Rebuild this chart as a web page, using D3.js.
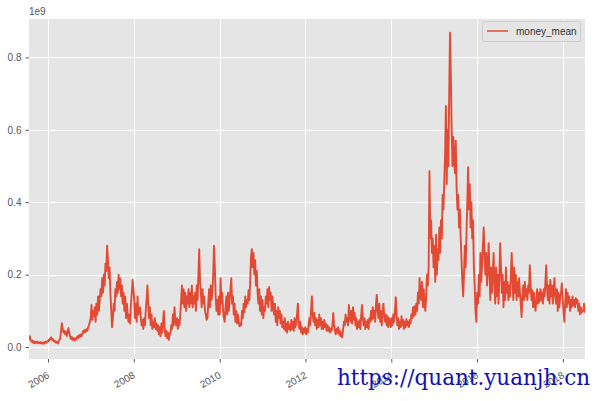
<!DOCTYPE html>
<html>
<head>
<meta charset="utf-8">
<script src="https://cdn.jsdelivr.net/npm/d3@7"></script>
<style>
  html, body { margin: 0; padding: 0; background: #ffffff; }
  svg { display: block; }
</style>
</head>
<body>
<div id="chart"></div>
<script>
// ---- data (values in units of 1e9), weekly samples starting 2005-07-23 ----
const seriesName = "money_mean";
const startDate = new Date(2005, 6, 23);
const stepDays = 7;

const moneyMean2005 = [0.02,0.03,0.02,0.015,0.018,0.012,0.016,0.01,0.014,0.012,0.015,0.01,0.013,0.011,0.014,0.01,0.012,0.009,0.013,0.01,0.015,0.012,0.016];
const moneyMean2006 = [0.015,0.02,0.018,0.024, 0.027,0.02,0.022, 0.016,0.018,0.014, 0.012,0.015,0.01,0.014,0.02,0.025, 0.045,0.066, 0.05,0.04,0.045,0.035,0.042, 0.03,0.045, 0.052,0.038, 0.03,0.022,0.028,0.02,0.025,0.018,0.024,0.02, 0.026,0.03,0.025,0.033,0.028,0.035,0.03, 0.038,0.045,0.04,0.047,0.042, 0.05,0.045,0.055,0.06,0.07];
const moneyMean2007 = [0.08,0.116,0.075,0.1, 0.085,0.11,0.07, 0.12,0.09,0.14,0.1, 0.13,0.16,0.14,0.19,0.15,0.2, 0.17,0.23, 0.21,0.28,0.24, 0.19,0.22, 0.15,0.1, 0.055,0.08, 0.12,0.1, 0.16,0.14,0.18,0.15,0.2,0.16, 0.19,0.14,0.17,0.12,0.15, 0.1,0.14,0.08,0.12,0.09, 0.07,0.09,0.065, 0.12,0.15,0.185];
const moneyMean2008 = [0.16,0.13, 0.08,0.12,0.07,0.14,0.09, 0.1,0.11,0.08, 0.06,0.075,0.05,0.08,0.06, 0.1,0.13, 0.17,0.12, 0.08,0.11,0.06,0.09,0.05, 0.07,0.055,0.08,0.05,0.065,0.045, 0.06,0.035,0.055,0.03,0.065,0.04, 0.07,0.1, 0.05,0.03,0.045,0.025,0.04,0.02,0.035, 0.04,0.06,0.05,0.09,0.06,0.11,0.07];
const moneyMean2009 = [0.06,0.08,0.05,0.075,0.06, 0.09,0.13,0.17, 0.12,0.16,0.11,0.15,0.1,0.14,0.12, 0.16,0.11,0.15,0.12,0.17,0.11,0.14,0.12, 0.15,0.1,0.17,0.13, 0.2,0.27,0.18, 0.15,0.11,0.16,0.12,0.14, 0.1,0.09,0.075, 0.08,0.12,0.16,0.11,0.17,0.13,0.15, 0.2,0.28,0.22, 0.14,0.1,0.13,0.09];
const moneyMean2010 = [0.14,0.09,0.19,0.12,0.15, 0.1,0.08,0.07, 0.11,0.14,0.09,0.15,0.1,0.13, 0.16,0.19, 0.12,0.14,0.09,0.12,0.07,0.1,0.065,0.09, 0.07,0.057,0.065,0.06, 0.1,0.08,0.12,0.095,0.14,0.11,0.13, 0.12,0.157,0.13, 0.18,0.25,0.27, 0.22,0.26,0.2, 0.24,0.17,0.21,0.15, 0.12,0.16,0.1,0.14];
const moneyMean2011 = [0.09,0.13,0.08,0.11, 0.1,0.14,0.12,0.16,0.11,0.166,0.13,0.15,0.1,0.14,0.11, 0.09,0.12,0.07,0.1,0.06,0.11,0.08,0.1,0.065,0.09,0.055, 0.07,0.05,0.08,0.045,0.065,0.04,0.07,0.05,0.06, 0.045,0.075,0.05,0.07,0.045,0.08,0.055,0.065, 0.09,0.12,0.06, 0.05,0.07,0.04,0.055,0.035,0.05];
const moneyMean2012 = [0.04,0.055,0.035,0.05,0.04,0.06, 0.08,0.06,0.1, 0.14,0.09, 0.07,0.094,0.06,0.08,0.05, 0.075,0.055,0.09,0.06,0.08,0.05, 0.07,0.05,0.075,0.055,0.065,0.045,0.06, 0.045,0.055,0.04,0.05,0.045,0.06, 0.094,0.06, 0.045,0.035,0.05,0.04,0.055,0.035,0.045,0.03,0.04,0.027, 0.05,0.07,0.06,0.09,0.07];
const moneyMean2013 = [0.08,0.06, 0.116,0.09, 0.07,0.1,0.065,0.11,0.075,0.095,0.06, 0.08,0.05,0.07,0.055,0.075,0.05, 0.09,0.116,0.08, 0.06,0.08,0.05,0.07,0.055,0.075,0.05,0.08, 0.07,0.1,0.075,0.11,0.08,0.1,0.07,0.12, 0.144,0.1, 0.08,0.12,0.07,0.1,0.06, 0.09,0.12,0.085, 0.07,0.09,0.06,0.085,0.055,0.08];
const moneyMean2014 = [0.07,0.055,0.08,0.06,0.09,0.07, 0.1,0.138, 0.09,0.06,0.08,0.05,0.07,0.055,0.085, 0.06,0.075,0.05,0.07,0.055,0.077,0.06,0.07,0.055,0.075,0.065, 0.09,0.08,0.11,0.085,0.113,0.09, 0.12,0.1,0.15,0.12,0.19,0.14, 0.13,0.18,0.11,0.16, 0.12,0.1, 0.14,0.2,0.17, 0.22,0.486, 0.3,0.35,0.26];
const moneyMean2015 = [0.3,0.22, 0.28,0.18,0.31,0.2,0.27, 0.24,0.33,0.26, 0.35,0.3,0.42, 0.38,0.46, 0.53,0.666, 0.45,0.6,0.5, 0.7,0.868, 0.75,0.6, 0.5,0.58,0.52, 0.48,0.57, 0.44,0.38, 0.42,0.33,0.38, 0.3,0.24,0.18, 0.14,0.2, 0.28,0.22,0.31, 0.4,0.497, 0.38,0.45,0.33, 0.4,0.3,0.35, 0.22,0.17];
const moneyMean2016 = [0.1,0.07, 0.15,0.12,0.2,0.14, 0.26,0.18,0.23, 0.28,0.33, 0.25,0.2,0.26,0.17,0.22, 0.287,0.2, 0.13,0.22,0.15, 0.2,0.26, 0.17,0.12,0.22,0.14,0.2,0.12, 0.2,0.287,0.22, 0.15,0.2,0.11,0.18,0.13,0.22, 0.15,0.18,0.13,0.17,0.14, 0.2,0.26, 0.18,0.13,0.22,0.15,0.2,0.13,0.18];
const moneyMean2017 = [0.14,0.19,0.15, 0.12,0.083, 0.14,0.17,0.13,0.18,0.14, 0.16,0.13,0.17,0.15, 0.226,0.17, 0.13,0.157,0.11,0.15,0.12,0.1, 0.13,0.16,0.12,0.15,0.125,0.16,0.13,0.15,0.12,0.16, 0.14,0.18,0.226, 0.16,0.13,0.17, 0.12,0.185,0.14,0.17,0.12,0.16,0.19, 0.14,0.12,0.16,0.1,0.15,0.11,0.14];
const moneyMean2018 = [0.15,0.176, 0.13,0.1,0.07, 0.12,0.16,0.11,0.15,0.12,0.14,0.1, 0.13,0.11,0.14,0.115,0.13,0.11,0.135,0.12,0.13, 0.1,0.12,0.09,0.11,0.095,0.1, 0.1,0.12,0.095];

const moneyMean = [].concat(moneyMean2005, moneyMean2006, moneyMean2007, moneyMean2008, moneyMean2009,
  moneyMean2010, moneyMean2011, moneyMean2012, moneyMean2013, moneyMean2014, moneyMean2015,
  moneyMean2016, moneyMean2017, moneyMean2018);

const xTickYears = [2006, 2008, 2010, 2012, 2014, 2016, 2018];
const xTickLabels = ["2006", "2008", "2010", "2012", "2014", "2016", "2018"];
const yTickValues = [0.0, 0.2, 0.4, 0.6, 0.8];
const yTickLabels = ["0.0", "0.2", "0.4", "0.6", "0.8"];
const offsetText = "1e9";
const watermark = "https://quant.yuanjh.cn";

// ---- layout ----
const W = 602, H = 401;
const plot = { left: 29, right: 585, top: 19, bottom: 359 };
const lineColor = "#E24A33";

const data = moneyMean.map((v, i) => ({ date: d3.timeDay.offset(startDate, i * stepDays), value: v }));

const svg = d3.select("#chart").append("svg").attr("width", W).attr("height", H);

const x = d3.scaleTime()
  .domain([new Date(2005, 6, 23), new Date(2018, 6, 8)])
  .range([plot.left, plot.right]);
const y = d3.scaleLinear()
  .domain([-0.033, 0.906])
  .range([plot.bottom, plot.top]);

// background
svg.append("rect")
  .attr("x", plot.left).attr("y", plot.top)
  .attr("width", plot.right - plot.left).attr("height", plot.bottom - plot.top)
  .attr("fill", "#E5E5E5");

const xTickDates = xTickYears.map(yy => new Date(yy, 0, 1));

// grid
svg.append("g").selectAll("line").data(xTickDates).join("line")
  .attr("x1", d => Math.round(x(d)) + 0.5).attr("x2", d => Math.round(x(d)) + 0.5)
  .attr("y1", plot.top).attr("y2", plot.bottom)
  .attr("stroke", "#ffffff").attr("stroke-width", 1);
svg.append("g").selectAll("line").data(yTickValues).join("line")
  .attr("y1", d => Math.round(y(d)) + 0.5).attr("y2", d => Math.round(y(d)) + 0.5)
  .attr("x1", plot.left).attr("x2", plot.right)
  .attr("stroke", "#ffffff").attr("stroke-width", 1);

// x axis
const xAxis = d3.axisBottom(x)
  .tickValues(xTickDates)
  .tickSize(3.5)
  .tickPadding(0)
  .tickFormat((d, i) => xTickLabels[i]);
const gx = svg.append("g").attr("transform", `translate(0,${plot.bottom})`).call(xAxis);
gx.select(".domain").remove();
gx.selectAll(".tick line").attr("stroke", "#555555");
gx.selectAll(".tick text")
  .attr("fill", "#555555")
  .attr("font-family", "'Liberation Sans', Arial, sans-serif")
  .attr("font-size", 10)
  .attr("text-anchor", "end")
  .attr("y", 0).attr("dy", "0.72em")
  .attr("transform", "translate(-2,12) rotate(-30)");

// y axis
const yAxis = d3.axisLeft(y)
  .tickValues(yTickValues)
  .tickSize(3.5)
  .tickPadding(4)
  .tickFormat((d, i) => yTickLabels[i]);
const gy = svg.append("g").attr("transform", `translate(${plot.left},0)`).call(yAxis);
gy.select(".domain").remove();
gy.selectAll(".tick line").attr("stroke", "#555555");
gy.selectAll(".tick text")
  .attr("fill", "#555555")
  .attr("font-family", "'Liberation Sans', Arial, sans-serif")
  .attr("font-size", 10);

// offset text
svg.append("text")
  .attr("x", plot.left).attr("y", 15)
  .attr("fill", "#555555")
  .attr("font-family", "'Liberation Sans', Arial, sans-serif")
  .attr("font-size", 10)
  .text(offsetText);

// line
const line = d3.line().x(d => x(d.date)).y(d => y(d.value));
svg.append("defs").append("clipPath").attr("id", "clip")
  .append("rect").attr("x", plot.left).attr("y", plot.top)
  .attr("width", plot.right - plot.left).attr("height", plot.bottom - plot.top);
svg.append("path")
  .datum(data)
  .attr("clip-path", "url(#clip)")
  .attr("d", line)
  .attr("fill", "none")
  .attr("stroke", lineColor)
  .attr("stroke-width", 1.9)
  .attr("stroke-linejoin", "round");

// legend
const lg = svg.append("g");
lg.append("rect")
  .attr("x", 482.5).attr("y", 21.5).attr("width", 98).attr("height", 20)
  .attr("rx", 2)
  .attr("fill", "#E5E5E5").attr("fill-opacity", 0.8)
  .attr("stroke", "#cccccc").attr("stroke-width", 1);
lg.append("line")
  .attr("x1", 487).attr("x2", 508).attr("y1", 31).attr("y2", 31)
  .attr("stroke", lineColor).attr("stroke-width", 1.5);
lg.append("text")
  .attr("x", 516).attr("y", 35)
  .attr("fill", "#333333")
  .attr("font-family", "'Liberation Sans', Arial, sans-serif")
  .attr("font-size", 10)
  .text(seriesName);

// watermark
svg.append("text")
  .attr("x", 337).attr("y", 385)
  .attr("fill", "#1010b8")
  .attr("font-family", "'DejaVu Serif', serif")
  .attr("font-size", 21.5)
  .attr("textLength", 253)
  .attr("lengthAdjust", "spacingAndGlyphs")
  .text(watermark);
</script>
</body>
</html>
